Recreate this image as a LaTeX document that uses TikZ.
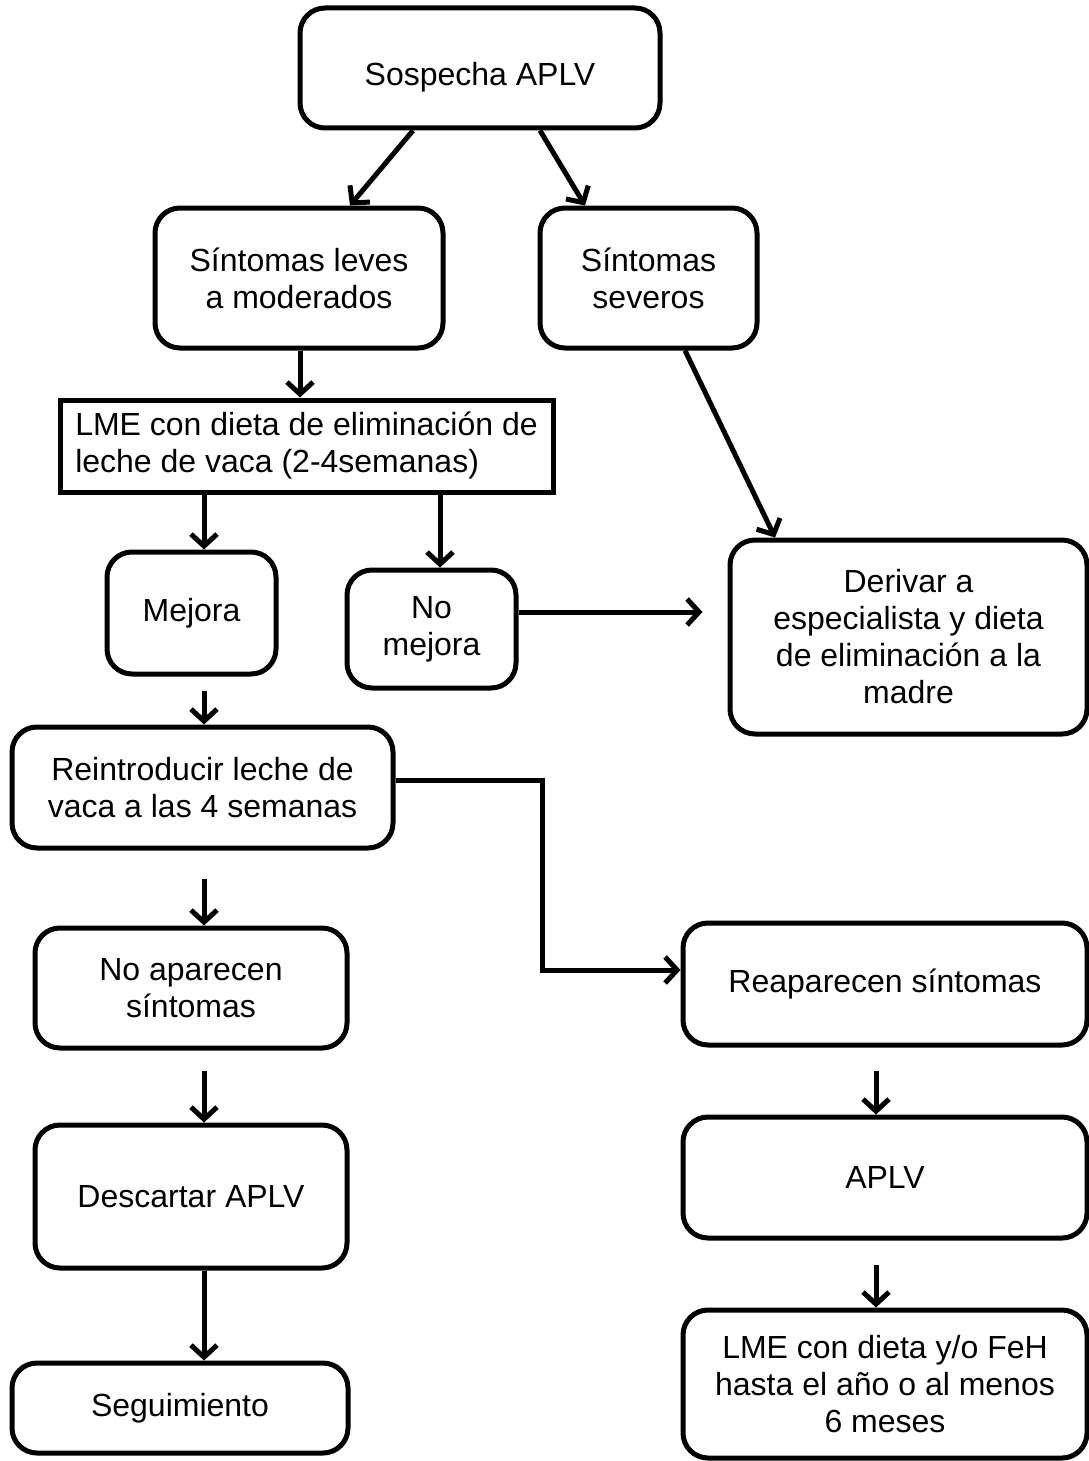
\documentclass[tikz,border=0pt]{standalone}
\usepackage{fontspec}
\setmainfont{Liberation Sans}
\usetikzlibrary{arrows.meta}
\tikzset{
  box/.style={draw=black, line width=5pt, rounded corners=25pt, align=center,
    font=\fontsize{32}{37}\selectfont, inner sep=4pt},
  sqbox/.style={draw=black, line width=5pt, align=left,
    font=\fontsize{32}{37}\selectfont, inner sep=4pt},
  arr/.style={line width=5pt, -{Straight Barb[length=12pt,width=26pt]}}
}
\begin{document}
\begin{tikzpicture}[x=1pt,y=-1pt]
\useasboundingbox (0,0) rectangle (1089,1461);
% columns for the vertical arrows
\coordinate (colA) at (204,0);
\coordinate (colB) at (440,0);
\coordinate (colC) at (300,0);
\coordinate (colD) at (876,0);
% boxes
\node[box, minimum width=360pt, minimum height=120pt, text height=42pt] (sospecha) at (480,68) {Sospecha APLV};
\node[box, minimum width=288pt, minimum height=140pt] (leves) at (299,278) {Síntomas leves\\a moderados};
\node[box, minimum width=217pt, minimum height=140pt] (severos) at (648.5,278) {Síntomas\\severos};
\node[sqbox, minimum width=493pt, minimum height=92pt] (lme) at (306.5,446) {LME con dieta de eliminación de\\leche de vaca (2-4semanas)};
\node[box, minimum width=169pt, minimum height=122pt] (mejora) at (191.5,613) {Mejora};
\node[box, minimum width=169pt, minimum height=118pt] (nomejora) at (431.5,629) {No\\mejora};
\node[box, minimum width=357pt, minimum height=194pt] (derivar) at (908.5,637) {Derivar a\\especialista y dieta\\de eliminación a la\\madre};
\node[box, minimum width=381pt, minimum height=121pt] (reintro) at (202.5,787.5) {Reintroducir leche de\\vaca a las 4 semanas};
\node[box, minimum width=312pt, minimum height=120pt] (noapar) at (191,988) {No aparecen\\síntomas};
\node[box, minimum width=404pt, minimum height=122pt] (reapar) at (885,984) {Reaparecen síntomas};
\node[box, minimum width=312pt, minimum height=143pt] (descartar) at (191,1196.5) {Descartar APLV};
\node[box, minimum width=404pt, minimum height=121pt] (aplv) at (885,1177.5) {APLV};
\node[box, minimum width=336pt, minimum height=90pt] (seguim) at (180,1408) {Seguimiento};
\node[box, minimum width=404pt, minimum height=148pt] (lmefeh) at (885,1384) {LME con dieta y/o FeH\\hasta el año o al menos\\6 meses};
% arrows
\draw[arr] ([xshift=-67pt]sospecha.south) -- ([xshift=51pt]leves.north);
\draw[arr] ([xshift=60pt]sospecha.south) -- ([xshift=-63.5pt]severos.north);
\draw[arr] (leves.south -| colC) -- (lme.north -| colC);
\draw[arr] ([xshift=36.5pt]severos.south) -- ([xshift=-133.5pt]derivar.north);
\draw[arr] (lme.south -| colA) -- (mejora.north -| colA);
\draw[arr] (lme.south -| colB) -- (nomejora.north -| colB);
\draw[arr, shorten >=25pt] ([yshift=17pt]nomejora.east) -- ([yshift=17pt]nomejora.east -| derivar.west);
\draw[arr, shorten <=14pt] (mejora.south -| colA) -- (reintro.north -| colA);
\draw[arr] ([yshift=7pt]reintro.east) -- ++(147,0) |- ([yshift=14pt]reapar.west);
\draw[arr, shorten <=28pt] (reintro.south -| colA) -- (noapar.north -| colA);
\draw[arr, shorten <=20pt] (noapar.south -| colA) -- (descartar.north -| colA);
\draw[arr] (descartar.south -| colA) -- (seguim.north -| colA);
\draw[arr, shorten <=23pt] (reapar.south -| colD) -- (aplv.north -| colD);
\draw[arr, shorten <=24pt] (aplv.south -| colD) -- (lmefeh.north -| colD);
\end{tikzpicture}
\end{document}
